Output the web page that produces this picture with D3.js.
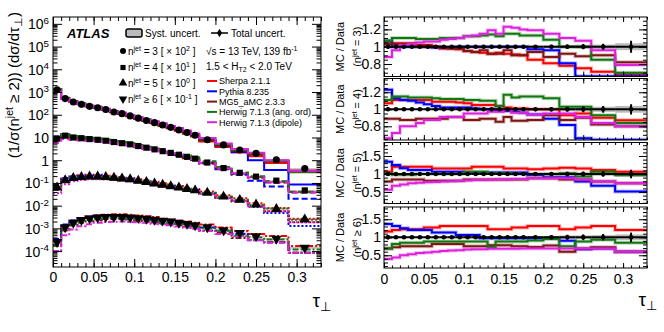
<!DOCTYPE html>
<html>
<head>
<meta charset="utf-8">
<script src="https://cdn.jsdelivr.net/npm/d3@7"></script>
<style>
body{margin:0;background:#fff}
svg{font-family:"Liberation Sans",Arial,Helvetica,sans-serif}
</style>
</head>
<body>
<script>
// bin edges of tau_perp
const edges=[0,0.01,0.02,0.03,0.04,0.05,0.06,0.07,0.08,0.09,0.1,0.11,0.12,0.13,0.14,0.15,0.16,0.17,0.18,0.2,0.22,0.24,0.26,0.29,0.33];

// data, unscaled (1/sigma dsigma/dtau)
const dataN3=[12.6,5.13,3.63,2.88,2.34,2.04,1.70,1.32,1.12,0.89,0.71,0.56,0.45,0.355,0.28,0.214,0.166,0.126,0.079,0.047,0.028,0.020,0.0105,0.0043];
const dataN4=[0.89,1.20,1.00,0.93,0.85,0.79,0.72,0.63,0.56,0.50,0.42,0.355,0.30,0.25,0.21,0.174,0.141,0.117,0.079,0.045,0.028,0.019,0.0126,0.0047];
const dataN5=[0.063,0.132,0.166,0.182,0.191,0.191,0.182,0.170,0.158,0.145,0.126,0.110,0.095,0.083,0.072,0.063,0.054,0.047,0.037,0.025,0.018,0.0112,0.0071,0.0025];
const dataN6=[0.0025,0.0112,0.0178,0.0234,0.0275,0.0302,0.0316,0.0316,0.0316,0.0302,0.0282,0.0263,0.0240,0.0219,0.0200,0.0178,0.0158,0.0138,0.0112,0.0083,0.0063,0.0045,0.0035,0.0014];
const scalePow=[2,1,0,-1];
const njetText=["= 3","= 4","= 5","≥ 6"];

// relative uncertainties
const totErr=[
 [0.02,0.015,0.012,0.012,0.012,0.012,0.012,0.012,0.012,0.012,0.013,0.013,0.014,0.014,0.015,0.016,0.017,0.018,0.02,0.022,0.025,0.03,0.035,0.07],
 [0.02,0.015,0.012,0.012,0.012,0.012,0.012,0.013,0.013,0.014,0.014,0.015,0.015,0.016,0.017,0.018,0.019,0.02,0.022,0.025,0.03,0.035,0.04,0.06],
 [0.05,0.03,0.03,0.03,0.03,0.03,0.03,0.03,0.03,0.03,0.035,0.035,0.035,0.035,0.035,0.04,0.04,0.04,0.045,0.05,0.06,0.07,0.08,0.12],
 [0.06,0.04,0.035,0.035,0.035,0.035,0.035,0.035,0.035,0.035,0.035,0.04,0.04,0.04,0.04,0.045,0.045,0.045,0.05,0.06,0.07,0.08,0.09,0.13]
];
const systErr=[
 [0.015,0.01,0.008,0.008,0.008,0.008,0.008,0.008,0.008,0.008,0.009,0.009,0.01,0.01,0.01,0.011,0.012,0.013,0.015,0.016,0.018,0.022,0.025,0.04],
 [0.015,0.01,0.008,0.008,0.008,0.008,0.008,0.009,0.009,0.01,0.01,0.011,0.011,0.012,0.012,0.013,0.014,0.015,0.016,0.018,0.022,0.025,0.03,0.04],
 [0.04,0.02,0.02,0.02,0.02,0.02,0.02,0.02,0.02,0.02,0.025,0.025,0.025,0.025,0.025,0.03,0.03,0.03,0.03,0.035,0.04,0.05,0.05,0.08],
 [0.05,0.03,0.025,0.025,0.025,0.025,0.025,0.025,0.025,0.025,0.025,0.03,0.03,0.03,0.03,0.03,0.03,0.03,0.035,0.04,0.05,0.05,0.06,0.08]
];

// MC / data, rows: njet = 3, 4, 5, >=6
const sherpaRatio=[
 [1.04,1.04,1.04,1.04,1.02,1.02,1.0,0.98,0.98,0.97,0.95,0.94,0.93,0.92,0.93,0.92,0.91,0.9,0.85,0.81,0.78,0.75,0.71,0.68],
 [1.07,1.11,1.11,1.11,1.11,1.11,1.09,1.09,1.09,1.08,1.07,1.05,1.05,1.05,1.04,1.02,1.01,1.01,1.0,1.0,0.93,0.95,0.9,0.87],
 [1.06,1.2,1.2,1.2,1.2,1.2,1.15,1.15,1.15,1.15,1.15,1.2,1.2,1.2,1.2,1.15,1.15,1.15,1.13,1.15,1.17,1.15,1.11,1.06],
 [1.16,1.2,1.22,1.22,1.22,1.27,1.27,1.31,1.31,1.31,1.31,1.31,1.31,1.22,1.22,1.22,1.27,1.27,1.31,1.31,1.22,1.27,1.31,1.2]
];
const pythiaRatio=[
 [1.07,1.0,1.0,1.0,1.0,1.0,0.99,0.99,0.99,1.0,1.0,1.0,1.0,1.0,1.0,1.0,1.0,1.0,0.97,0.96,0.81,0.5,0.35,0.2],
 [1.23,1.13,1.11,1.1,1.08,1.06,1.04,1.02,1.02,1.02,1.02,1.01,1.0,1.0,0.99,0.98,0.97,0.96,0.94,0.89,0.815,0.66,0.55,0.43],
 [1.34,1.25,1.16,1.11,1.11,1.11,1.06,1.06,1.06,1.06,1.04,1.04,1.04,1.04,1.04,1.04,1.04,1.04,0.97,0.91,0.91,0.79,0.67,0.51],
 [1.37,1.31,1.25,1.2,1.2,1.2,1.13,1.13,1.13,1.06,1.06,1.06,0.97,0.97,0.97,0.97,0.97,0.97,0.97,0.97,0.9,0.67,0.69,0.6]
];
const mg5Ratio=[
 [1.03,1.03,1.03,1.03,1.0,1.0,1.0,0.99,0.98,0.98,0.95,0.94,0.96,0.92,0.92,0.96,0.9,0.9,0.94,0.88,0.92,0.89,0.9,0.82],
 [0.89,0.89,0.875,0.875,0.89,0.89,0.89,0.89,0.91,0.91,0.875,0.875,0.89,0.89,0.855,0.91,0.865,0.865,0.875,0.93,0.875,0.9,0.82,0.8],
 [0.79,0.85,0.85,0.85,0.85,0.81,0.81,0.81,0.81,0.81,0.85,0.85,0.85,0.85,0.85,0.85,0.85,0.85,0.88,0.88,0.85,0.85,0.79,0.74],
 [0.69,0.72,0.75,0.75,0.75,0.75,0.81,0.81,0.81,0.81,0.75,0.75,0.75,0.78,0.78,0.78,0.75,0.75,0.73,0.77,0.6,0.69,0.72,0.6]
];
const herwigAngRatio=[
 [1.07,1.1,1.1,1.1,1.09,1.09,1.09,1.1,1.1,1.1,1.12,1.12,1.13,1.14,1.12,1.15,1.15,1.13,1.13,1.08,1.0,1.0,0.85,0.7],
 [1.11,1.15,1.15,1.14,1.14,1.14,1.13,1.12,1.12,1.12,1.11,1.11,1.1,1.1,1.04,1.17,1.14,1.15,1.15,1.13,1.03,1.03,0.93,0.84],
 [1.02,0.98,0.98,0.98,1.0,1.0,1.0,1.0,1.0,1.0,1.06,1.06,1.06,1.02,1.02,1.02,1.0,1.0,1.0,1.0,1.02,0.93,1.06,0.97],
 [0.69,0.81,0.85,0.85,0.85,0.88,0.88,0.88,0.88,0.88,0.88,0.88,0.88,0.73,0.88,0.88,0.88,0.88,0.91,0.95,0.75,0.88,0.93,0.85]
];
const herwigDipRatio=[
 [0.88,0.96,1.02,1.03,1.05,1.06,1.06,1.08,1.09,1.1,1.12,1.13,1.15,1.19,1.15,1.23,1.22,1.2,1.19,1.15,1.1,1.07,0.96,0.79],
 [0.66,0.72,0.8,0.8,0.84,0.875,0.875,0.91,0.91,0.91,0.95,0.95,0.95,0.97,0.97,0.99,0.96,0.96,0.94,0.95,0.95,0.91,0.84,0.8],
 [0.56,0.67,0.71,0.74,0.76,0.77,0.78,0.79,0.8,0.81,0.82,0.83,0.83,0.84,0.85,0.85,0.86,0.86,0.88,0.88,0.88,0.85,0.79,0.74],
 [0.4,0.44,0.5,0.53,0.56,0.58,0.6,0.62,0.63,0.64,0.66,0.67,0.67,0.68,0.68,0.68,0.68,0.69,0.69,0.69,0.69,0.69,0.69,0.6]
];

const allData=[dataN3,dataN4,dataN5,dataN6];
const gens=[
  {name:"Sherpa 2.1.1",color:"#ff0000",ratio:sherpaRatio},
  {name:"Pythia 8.235",color:"#0000ff",ratio:pythiaRatio},
  {name:"MG5_aMC 2.3.3",color:"#801515",ratio:mg5Ratio},
  {name:"Herwig 7.1.3 (ang. ord)",color:"#117711",ratio:herwigAngRatio},
  {name:"Herwig 7.1.3 (dipole)",color:"#dd22dd",ratio:herwigDipRatio}
];
const dashes=[null,"6,3","2,2","6,2,2,2"];
const centers=d3.range(edges.length-1).map(i=>(edges[i]+edges[i+1])/2);

const svg=d3.select("body").append("svg").attr("width",664).attr("height",332);

// rich text helper: parts = [text, "sup"|"sub"|""], fs = font size in px
function rich(t,parts,fs){
  let shift=0;
  parts.forEach(p=>{
    const s=t.append("tspan").text(p[0]);
    let target=0;
    if(p[1]==="sup"){target=-0.4*fs;s.attr("font-size",fs*0.7);}
    if(p[1]==="sub"){target=0.22*fs;s.attr("font-size",fs*0.7);}
    if(target!==shift) s.attr("dy",target-shift);
    shift=target;
  });
  t.attr("font-size",fs);
  return t;
}
function stepPts(vals){
  const pts=[];
  vals.forEach((v,i)=>{pts.push([edges[i],v]);pts.push([edges[i+1],v]);});
  return pts;
}
const xFmt=d=>String(+d.toFixed(2));
const xMajor=[0,0.05,0.1,0.15,0.2,0.25,0.3];
const xMinor=d3.range(0,0.331,0.01).map(d=>+d.toFixed(2));

// ---------- left panel ----------
const L={x0:53,x1:321,y0:17,y1:267};
const xL=d3.scaleLinear().domain([0,0.33]).range([L.x0,L.x1]);
const yL=d3.scaleLog().domain([2e-5,2e6]).range([L.y1,L.y0]);

svg.append("clipPath").attr("id","clipL").append("rect")
  .attr("x",L.x0).attr("y",L.y0).attr("width",L.x1-L.x0).attr("height",L.y1-L.y0);
const gL=svg.append("g").attr("clip-path","url(#clipL)");

allData.forEach((dat,j)=>{
  const f=Math.pow(10,scalePow[j]);
  // syst band
  gL.selectAll(null).data(dat).enter().append("rect")
    .attr("x",(d,i)=>xL(edges[i])).attr("width",(d,i)=>xL(edges[i+1])-xL(edges[i]))
    .attr("y",(d,i)=>yL(d*f*(1+systErr[j][i]))).attr("height",(d,i)=>yL(d*f*(1-systErr[j][i]))-yL(d*f*(1+systErr[j][i])))
    .attr("fill","#bbb");
  gens.forEach(g=>{
    const vals=dat.map((d,i)=>d*f*g.ratio[j][i]);
    const line=d3.line().x(p=>xL(p[0])).y(p=>yL(p[1]));
    gL.append("path").attr("d",line(stepPts(vals))).attr("fill","none")
      .attr("stroke",g.color).attr("stroke-width",2).attr("stroke-dasharray",dashes[j]);
  });
});
const symTypes=[d3.symbolCircle,d3.symbolSquare,d3.symbolTriangle,d3.symbolTriangle];
const symSize=[40,38,46,46];
allData.forEach((dat,j)=>{
  const f=Math.pow(10,scalePow[j]);
  gL.selectAll(null).data(dat).enter().append("path")
    .attr("d",d3.symbol().type(symTypes[j]).size(symSize[j]))
    .attr("transform",(d,i)=>`translate(${xL(centers[i])},${yL(d*f)})`+(j===3?" rotate(180)":""))
    .attr("fill","#000");
});

// axes left
function styleAxis(g){g.select(".domain").remove();g.selectAll("line").attr("stroke","#000");}
const logMajor=d3.range(-4,7).map(k=>Math.pow(10,k));
const logMinor=[];
d3.range(-5,7).forEach(k=>{for(let m=2;m<10;m++){const v=m*Math.pow(10,k);if(v>2e-5&&v<2e6)logMinor.push(v);}});

const yAx=svg.append("g").attr("transform",`translate(${L.x0},0)`)
  .call(d3.axisLeft(yL).tickValues(logMajor).tickSize(-9).tickPadding(4).tickFormat(""));
styleAxis(yAx);
yAx.selectAll(".tick text").each(function(d){
  const t=d3.select(this).attr("fill","#000").attr("text-anchor","end").attr("dy","0.36em");
  const k=Math.round(Math.log10(d));
  if(k===0) rich(t,[["1",""]],14);
  else if(k===1) rich(t,[["10",""]],14);
  else rich(t,[["10",""],[String(k),"sup"]],14);
});
svg.append("g").attr("transform",`translate(${L.x0},0)`)
  .call(d3.axisLeft(yL).tickValues(logMinor).tickSize(-4.5).tickFormat("")).call(styleAxis);
svg.append("g").attr("transform",`translate(${L.x1},0)`)
  .call(d3.axisRight(yL).tickValues(logMajor).tickSize(-9).tickFormat("")).call(styleAxis);
svg.append("g").attr("transform",`translate(${L.x1},0)`)
  .call(d3.axisRight(yL).tickValues(logMinor).tickSize(-4.5).tickFormat("")).call(styleAxis);

const xAxL=svg.append("g").attr("transform",`translate(0,${L.y1})`)
  .call(d3.axisBottom(xL).tickValues(xMajor).tickSize(-8).tickPadding(5).tickFormat(xFmt));
styleAxis(xAxL);
xAxL.selectAll("text").attr("font-size",14).attr("fill","#000").attr("font-family",null);
svg.append("g").attr("transform",`translate(0,${L.y1})`)
  .call(d3.axisBottom(xL).tickValues(xMinor).tickSize(-4).tickFormat("")).call(styleAxis);
svg.append("g").attr("transform",`translate(0,${L.y0})`)
  .call(d3.axisTop(xL).tickValues(xMajor).tickSize(-8).tickFormat("")).call(styleAxis);
svg.append("g").attr("transform",`translate(0,${L.y0})`)
  .call(d3.axisTop(xL).tickValues(xMinor).tickSize(-4).tickFormat("")).call(styleAxis);
svg.append("rect").attr("x",L.x0).attr("y",L.y0).attr("width",L.x1-L.x0).attr("height",L.y1-L.y0)
  .attr("fill","none").attr("stroke","#000").attr("stroke-width",1);

// titles left
rich(svg.append("text").attr("transform","translate(19,12) rotate(-90)").attr("text-anchor","end"),
  [["(1/σ(n",""],["jet","sup"],[" ≥ 2)) (dσ/dτ",""],["⊥","sub"],[")",""]],15);
rich(svg.append("text").attr("x",331).attr("y",307).attr("text-anchor","end"),
  [["τ",""],["⊥","sub"]],19);

// legend
svg.append("text").attr("x",67).attr("y",38).attr("font-size",13).attr("font-weight","bold").attr("font-style","italic").text("ATLAS");
svg.append("rect").attr("x",126).attr("y",29).attr("width",16).attr("height",8).attr("rx",2)
  .attr("fill","#bbb").attr("stroke","#000").attr("stroke-width",1.5);
svg.append("text").attr("x",145).attr("y",37).attr("font-size",10).text("Syst. uncert.");
svg.append("line").attr("x1",211).attr("x2",228).attr("y1",33).attr("y2",33).attr("stroke","#000").attr("stroke-width",1.5);
svg.append("path").attr("d",d3.symbol().type(d3.symbolDiamond).size(22)).attr("transform","translate(219.5,33)");
svg.append("text").attr("x",231).attr("y",37).attr("font-size",10).text("Total uncert.");

const legY=[51,67.5,83,99];
allData.forEach((dat,j)=>{
  svg.append("path").attr("d",d3.symbol().type(symTypes[j]).size(symSize[j]*0.7))
    .attr("transform",`translate(123,${legY[j]})`+(j===3?" rotate(180)":""));
  rich(svg.append("text").attr("x",128).attr("y",legY[j]+3.5),
    [["n",""],["jet","sup"],[` ${njetText[j]} [ × 10`,""],[String(scalePow[j]),"sup"],[" ]",""]],10);
});
rich(svg.append("text").attr("x",206).attr("y",55),[["√s = 13 TeV, 139 fb",""],["-1","sup"]],10);
rich(svg.append("text").attr("x",206).attr("y",70),[["1.5 < H",""],["T2","sub"],[" < 2.0 TeV",""]],10);
const mcY=[81,91.3,101.6,111.9,122.2];
gens.forEach((g,k)=>{
  svg.append("line").attr("x1",207).attr("x2",217).attr("y1",mcY[k]).attr("y2",mcY[k]).attr("stroke",g.color).attr("stroke-width",2);
  svg.append("text").attr("x",219).attr("y",mcY[k]+3.3).attr("font-size",9).text(g.name);
});

// ---------- ratio panels ----------
const R={x0:384,x1:647};
const panels=[
  {top:17,bot:76.5,dom:[0.656,1.343],major:[0.8,1,1.2],minorStep:0.05},
  {top:78.5,bot:140,dom:[0.639,1.362],major:[0.8,1,1.2],minorStep:0.05},
  {top:142.5,bot:203.5,dom:[0.18,1.875],major:[0.5,1,1.5],minorStep:0.1},
  {top:207,bot:268,dom:[0.147,1.84],major:[0.5,1,1.5],minorStep:0.1}
];
const xR=d3.scaleLinear().domain([0,0.33]).range([R.x0,R.x1]);

panels.forEach((p,j)=>{
  const y=d3.scaleLinear().domain(p.dom).range([p.bot,p.top]);
  const cid="clipR"+j;
  svg.append("clipPath").attr("id",cid).append("rect")
    .attr("x",R.x0).attr("y",p.top).attr("width",R.x1-R.x0).attr("height",p.bot-p.top);
  const g=svg.append("g").attr("clip-path",`url(#${cid})`);
  const dat=allData[j];
  // syst band
  g.selectAll(null).data(dat).enter().append("rect")
    .attr("x",(d,i)=>xR(edges[i])).attr("width",(d,i)=>xR(edges[i+1])-xR(edges[i]))
    .attr("y",(d,i)=>y(1+systErr[j][i])).attr("height",(d,i)=>y(1-systErr[j][i])-y(1+systErr[j][i]))
    .attr("fill","#bbb");
  const lo=p.dom[0]+0.004, hi=p.dom[1]-0.004;
  gens.forEach(gn=>{
    const vals=gn.ratio[j].map(v=>Math.max(lo,Math.min(hi,v)));
    const line=d3.line().x(q=>xR(q[0])).y(q=>y(q[1]));
    g.append("path").attr("d",line(stepPts(vals))).attr("fill","none")
      .attr("stroke",gn.color).attr("stroke-opacity",0.25).attr("stroke-width",4);
    g.append("path").attr("d",line(stepPts(vals))).attr("fill","none")
      .attr("stroke",gn.color).attr("stroke-width",2);
  });
  // data at 1 with x and y error bars
  g.selectAll(null).data(dat).enter().append("line")
    .attr("x1",(d,i)=>xR(edges[i])).attr("x2",(d,i)=>xR(edges[i+1]))
    .attr("y1",y(1)).attr("y2",y(1)).attr("stroke","#000").attr("stroke-width",2);
  g.selectAll(null).data(dat).enter().append("line")
    .attr("x1",(d,i)=>xR(centers[i])).attr("x2",(d,i)=>xR(centers[i]))
    .attr("y1",(d,i)=>y(1+totErr[j][i])).attr("y2",(d,i)=>y(1-totErr[j][i]))
    .attr("stroke","#000").attr("stroke-width",2);
  g.selectAll(null).data(dat).enter().append("circle")
    .attr("cx",(d,i)=>xR(centers[i])).attr("cy",y(1)).attr("r",2.3).attr("fill","#000");

  // axes
  const minor=d3.range(Math.ceil(p.dom[0]/p.minorStep)*p.minorStep,p.dom[1],p.minorStep).map(v=>+v.toFixed(2));
  const ya=svg.append("g").attr("transform",`translate(${R.x0},0)`)
    .call(d3.axisLeft(y).tickValues(p.major).tickSize(-8).tickPadding(3).tickFormat(d=>String(d)));
  styleAxis(ya);
  ya.selectAll("text").attr("font-size",14).attr("fill","#000").attr("font-family",null);
  svg.append("g").attr("transform",`translate(${R.x0},0)`)
    .call(d3.axisLeft(y).tickValues(minor).tickSize(-4).tickFormat("")).call(styleAxis);
  svg.append("g").attr("transform",`translate(${R.x1},0)`)
    .call(d3.axisRight(y).tickValues(p.major).tickSize(-8).tickFormat("")).call(styleAxis);
  svg.append("g").attr("transform",`translate(${R.x1},0)`)
    .call(d3.axisRight(y).tickValues(minor).tickSize(-4).tickFormat("")).call(styleAxis);
  const xb=svg.append("g").attr("transform",`translate(0,${p.bot})`)
    .call(d3.axisBottom(xR).tickValues(xMajor).tickSize(-5).tickPadding(j===3?6:0).tickFormat(j===3?xFmt:""));
  styleAxis(xb);
  xb.selectAll("text").attr("font-size",14).attr("fill","#000").attr("font-family",null);
  svg.append("g").attr("transform",`translate(0,${p.bot})`)
    .call(d3.axisBottom(xR).tickValues(xMinor).tickSize(-2.5).tickFormat("")).call(styleAxis);
  svg.append("g").attr("transform",`translate(0,${p.top})`)
    .call(d3.axisTop(xR).tickValues(xMajor).tickSize(-5).tickFormat("")).call(styleAxis);
  svg.append("g").attr("transform",`translate(0,${p.top})`)
    .call(d3.axisTop(xR).tickValues(xMinor).tickSize(-2.5).tickFormat("")).call(styleAxis);
  svg.append("rect").attr("x",R.x0).attr("y",p.top).attr("width",R.x1-R.x0).attr("height",p.bot-p.top)
    .attr("fill","none").attr("stroke","#000").attr("stroke-width",1);

  const cy=(p.top+p.bot)/2;
  svg.append("text").attr("transform",`translate(344,${cy}) rotate(-90)`).attr("text-anchor","middle")
    .attr("font-size",11).text("MC / Data");
  rich(svg.append("text").attr("transform",`translate(361,${cy}) rotate(-90)`).attr("text-anchor","middle"),
    [["(n",""],["jet","sup"],[` ${njetText[j]})`,""]],11);
});
rich(svg.append("text").attr("x",657).attr("y",306).attr("text-anchor","end"),
  [["τ",""],["⊥","sub"]],19);
</script>
</body>
</html>
